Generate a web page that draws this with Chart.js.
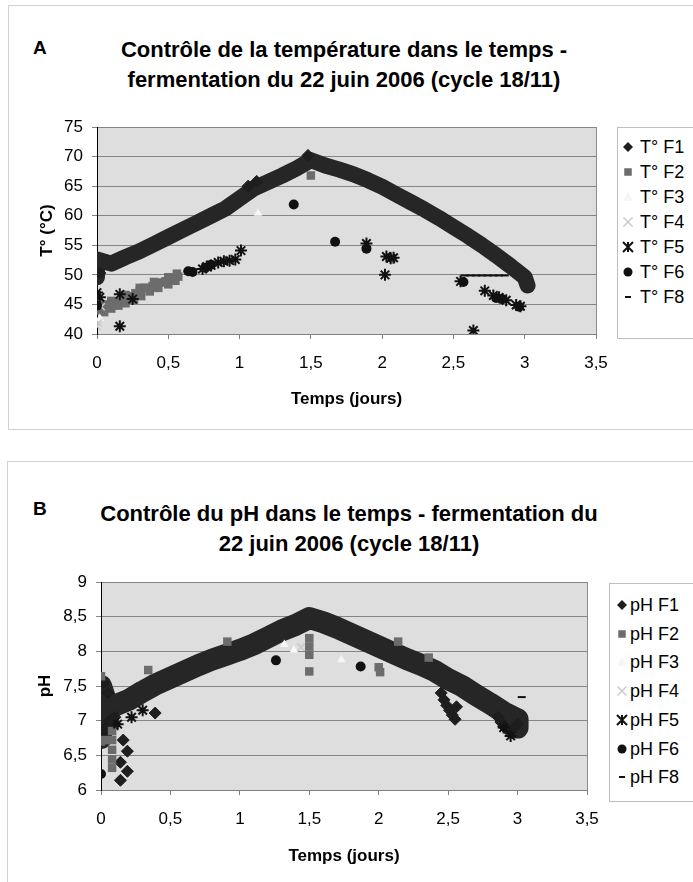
<!DOCTYPE html>
<html lang="fr">
<head>
<meta charset="utf-8">
<title>Contrôle de la température et du pH - fermentation du 22 juin 2006</title>
<script src="https://cdn.jsdelivr.net/npm/chart.js@4.4.1/dist/chart.umd.min.js"></script>
<style>
  html, body { margin: 0; padding: 0; background: #fff; }
  body { position: relative; width: 693px; height: 882px; overflow: hidden;
         font-family: "Liberation Sans", Arial, Helvetica, sans-serif; color: #000; }
  .panel { position: absolute; border: 1px solid #d2d2d2; }
  .letter { position: absolute; font-weight: bold; font-size: 19px; line-height: 20px; }
  .title { position: absolute; left: 0; text-align: center; font-weight: bold;
           font-size: 22px; line-height: 30px; white-space: nowrap; }
  canvas { position: absolute; }
  .legend { position: absolute; background: #fff; border: 1px solid #bdbdbd; }
  .item { position: absolute; font-size: 18px; line-height: 20px; white-space: nowrap; }
</style>
</head>
<body>

<div class="panel" style="left:8px;top:5px;width:700px;height:423px"></div>
<div class="letter" style="left:33px;top:38px">A</div>
<div class="title" style="top:35px;width:688px">Contrôle de la température dans le temps -<br>fermentation du 22 juin 2006 (cycle 18/11)</div>
<canvas id="chartA" width="600" height="310" style="left:8px;top:110px;width:600px;height:310px"></canvas>
<div class="legend" id="legendA" style="left:617px;top:127px;width:90px;height:210px"></div>

<div class="panel" style="left:7px;top:461px;width:700px;height:430px"></div>
<div class="letter" style="left:33px;top:499px">B</div>
<div class="title" style="top:499px;width:698px">Contrôle du pH dans le temps - fermentation du<br>22 juin 2006 (cycle 18/11)</div>
<canvas id="chartB" width="600" height="300" style="left:8px;top:570px;width:600px;height:300px"></canvas>
<div class="legend" id="legendB" style="left:609px;top:583px;width:90px;height:217px"></div>

<script>
// ---------- axes ----------
const xTickLabels = ['0', '0,5', '1', '1,5', '2', '2,5', '3', '3,5'];
const yTickLabelsA = ['40', '45', '50', '55', '60', '65', '70', '75'];
const yTickLabelsB = ['6', '6,5', '7', '7,5', '8', '8,5', '9'];

const seriesA = ['T° F1', 'T° F2', 'T° F3', 'T° F4', 'T° F5', 'T° F6', 'T° F8'];
const seriesB = ['pH F1', 'pH F2', 'pH F3', 'pH F4', 'pH F5', 'pH F6', 'pH F8'];

// ---------- A : température (°C) vs temps (jours) ----------
// dense band of F1 readings, traced along its middle
const tempF1Band = [[0, 49.6], [0, 52.6], [0.1, 51.9], [0.2, 53.0], [0.3, 54.0], [0.4, 55.2],
  [0.5, 56.4], [0.6, 57.6], [0.7, 58.8], [0.8, 60.0], [0.9, 61.2], [1.0, 62.9], [1.1, 64.6],
  [1.2, 65.7], [1.3, 66.8], [1.4, 68.0], [1.5, 69.4], [1.6, 68.5], [1.7, 67.8],
  [1.8, 67.0], [1.9, 66.0], [2.0, 64.9], [2.1, 63.6], [2.2, 62.3], [2.3, 61.0], [2.4, 59.6],
  [2.5, 58.1], [2.6, 56.6], [2.7, 55.0], [2.8, 53.3], [2.9, 51.5], [3.0, 49.6], [3.02, 48.2]];
const tempF1 = [[0.02, 50.3], [1.06, 65.0], [1.12, 65.8], [1.48, 70.2]];
const tempF2 = [[0, 44.0], [0.03, 44.4], [0.06, 44.5], [0.09, 44.9], [0.12, 45.0], [0.15, 45.4],
  [0.18, 45.6], [0.21, 46.0], [0.24, 46.4], [0.27, 46.9], [0.3, 47.3], [0.33, 47.8], [0.36, 47.8],
  [0.39, 48.1], [0.42, 48.3], [0.45, 48.7], [0.48, 48.9], [0.51, 49.1], [0.54, 49.5], [0.57, 49.7],
  [0.05, 43.7], [0.1, 44.3], [0.15, 44.8], [0.2, 45.2], [0.26, 45.8], [0.31, 46.4], [0.37, 47.2],
  [0.43, 47.8], [0.5, 48.4], [0.55, 49.0], [0.04, 45.0], [0.1, 45.6], [0.2, 46.6], [0.3, 47.8],
  [0.4, 48.8], [0.5, 49.6], [0.56, 50.2], [1.5, 66.8]];
const tempF3 = [[1.13, 60.4], [0.02, 42.6]];
const tempF4 = [[0, 41.3], [0.01, 41.9], [0.03, 44.6]];
const tempF5 = [[0, 47.0], [0.02, 46.2], [0.16, 41.3], [0.16, 46.7], [0.25, 45.9], [0.74, 51.0],
  [0.77, 51.4], [0.8, 51.6], [0.85, 52.1], [0.89, 52.3], [0.93, 52.4], [0.97, 52.6], [1.01, 54.1],
  [1.89, 55.3], [2.03, 53.1], [2.06, 52.8], [2.08, 52.9], [2.02, 50.0], [2.55, 48.9], [2.64, 40.6],
  [2.72, 47.3], [2.78, 46.5], [2.82, 46.2], [2.87, 45.7], [2.94, 44.9], [2.97, 44.7]];
const tempF6 = [[0, 44.8], [0.64, 50.6], [0.67, 50.5], [0.76, 51.2], [0.8, 51.7], [1.38, 61.9],
  [1.67, 55.6], [1.89, 54.4], [2.57, 48.8], [2.8, 46.1], [2.84, 45.9], [2.96, 44.6]];
const tempF8 = [[2.58, 49.9], [2.62, 49.9], [2.66, 49.9], [2.7, 49.9], [2.74, 49.9], [2.78, 49.9],
  [2.82, 49.9], [2.86, 49.9]];

// ---------- B : pH vs temps (jours) ----------
const phF1Band = [[0, 6.75], [0, 7.5], [0.05, 7.2], [0.1, 7.22], [0.2, 7.3], [0.3, 7.42], [0.4, 7.53],
  [0.5, 7.62], [0.6, 7.71], [0.7, 7.8], [0.8, 7.88], [0.9, 7.95], [1.0, 8.02], [1.1, 8.1], [1.2, 8.2],
  [1.3, 8.3], [1.4, 8.38], [1.5, 8.48], [1.6, 8.42], [1.7, 8.34], [1.8, 8.25], [1.9, 8.16], [2.0, 8.07],
  [2.1, 7.98], [2.2, 7.89], [2.3, 7.81], [2.4, 7.72], [2.5, 7.6], [2.6, 7.5], [2.7, 7.37], [2.8, 7.25],
  [2.9, 7.12], [3.0, 7.02], [3.0, 6.9]];
const phF1 = [[0.14, 6.14], [0.19, 6.27], [0.14, 6.40], [0.19, 6.56], [0.39, 7.11], [0.16, 6.72],
  [0.04, 6.8], [0.1, 6.95], [0.03, 6.9], [0.06, 7.0], [0.1, 7.05], [0.05, 7.4], [0.02, 7.55],
  [2.45, 7.4], [2.47, 7.3], [2.49, 7.22], [2.51, 7.15], [2.53, 7.08], [2.55, 7.02], [2.56, 7.2],
  [2.86, 7.05], [2.88, 6.98], [2.9, 6.92], [2.92, 6.88], [2.95, 6.85], [2.98, 6.9], [3.0, 6.95]];
const phF2 = [[0, 7.64], [0, 6.7], [0.03, 6.72], [0.34, 7.73], [0.91, 8.14], [1.5, 8.19], [1.5, 8.07],
  [1.5, 7.95], [1.5, 7.71], [2.0, 7.77], [2.01, 7.7], [2.14, 8.14], [2.36, 7.91],
  [0.08, 6.85], [0.08, 6.72], [0.08, 6.58], [0.08, 6.44], [0.08, 6.32]];
const phF3 = [[1.32, 8.1], [1.39, 8.02], [1.73, 7.88]];
const phF4 = [[1.44, 8.06]];
const phF5 = [[0.12, 6.95], [0.22, 7.05], [0.3, 7.15], [2.9, 6.9], [2.95, 6.78]];
const phF6 = [[0, 6.23], [1.26, 7.87], [1.87, 7.78]];
const phF8 = [[3.03, 7.34]];

// ---------- styles ----------
const FONT = '"Liberation Sans", Arial, Helvetica, sans-serif';
Chart.defaults.font.family = FONT;
Chart.defaults.color = '#000';

// marker look per series F1..F8 (chart markers, legend markers)
const markers = [
  { style: 'rectRot', color: '#1e1e1e', radius: 6, border: 1, legendRadius: 5 },
  { style: 'rect', color: '#6c6c6c', radius: 6, border: 0, legendRadius: 5 },
  { style: 'triangle', color: '#f6f6f6', radius: 5, border: 0, legendRadius: 5 },
  { style: 'crossRot', color: '#cacaca', radius: 5, border: 1.5, legendRadius: 4.5 },
  { style: 'star', color: '#111', radius: 6, border: 2, legendRadius: 5 },
  { style: 'circle', color: '#111', radius: 5, border: 0, legendRadius: 4.5 },
  { style: 'line', color: '#111', radius: 4, border: 2, legendRadius: 3 }
];
const bandColor = '#262626';

const plotFrame = {
  id: 'plotFrame',
  beforeDraw(chart) {
    const { ctx, chartArea: a } = chart;
    ctx.save();
    ctx.fillStyle = '#dedede';
    ctx.fillRect(a.left, a.top, a.right - a.left, a.bottom - a.top);
    ctx.restore();
  },
  beforeDatasetsDraw(chart) {
    const { ctx, chartArea: a } = chart;
    ctx.save();
    ctx.strokeStyle = '#8c8c8c';
    ctx.lineWidth = 1;
    ctx.beginPath();
    ctx.moveTo(a.right + 0.5, a.top);
    ctx.lineTo(a.right + 0.5, a.bottom);
    ctx.stroke();
    ctx.restore();
  }
};

function toXY(points) {
  return points.map(([x, y]) => ({ x, y }));
}

function scatterSet(points, i) {
  const m = markers[i];
  return {
    data: toXY(points),
    showLine: false,
    pointStyle: m.style,
    pointRadius: m.radius,
    pointBackgroundColor: m.color,
    pointBorderColor: m.color,
    pointBorderWidth: m.border,
    order: 7 - i
  };
}

function bandSet(points, width) {
  return {
    data: toXY(points),
    showLine: true,
    borderColor: bandColor,
    borderWidth: width,
    borderJoinStyle: 'round',
    borderCapStyle: 'round',
    pointRadius: 0,
    order: 9
  };
}

function makeChart(id, o) {
  return new Chart(document.getElementById(id), {
    type: 'scatter',
    data: { datasets: o.datasets },
    options: {
      responsive: false,
      animation: false,
      events: [],
      layout: { padding: o.padding },
      plugins: { legend: { display: false }, tooltip: { enabled: false } },
      scales: {
        x: {
          type: 'linear', min: 0, max: 3.5,
          ticks: { stepSize: 0.5, autoSkip: false, maxRotation: 0, padding: 14,
                   font: { size: 17 }, callback: (v, i) => xTickLabels[i] },
          grid: { drawOnChartArea: false, tickLength: 5, color: '#808080' },
          border: { color: '#808080' },
          title: { display: true, text: 'Temps (jours)', font: { size: 17, weight: 'bold' },
                   padding: { top: 0, bottom: o.xTitlePad } },
          afterFit: s => { s.height = o.xHeight; s.paddingLeft = 0; s.paddingRight = 0; }
        },
        y: {
          type: 'linear', min: o.yMin, max: o.yMax,
          ticks: { stepSize: o.yStep, autoSkip: false, padding: 9, font: { size: 17 },
                   callback: (v, i) => o.yLabels[i] },
          grid: { color: '#858585', tickLength: 5 },
          border: { color: '#000' },
          title: { display: true, text: o.yTitle, font: { size: 17, weight: 'bold' },
                   padding: { top: o.yTitlePad, bottom: 0 } },
          afterFit: s => { s.width = o.yWidth; s.paddingTop = 0; s.paddingBottom = 0; }
        }
      }
    },
    plugins: [plotFrame]
  });
}

makeChart('chartA', {
  datasets: [
    bandSet(tempF1Band, 16),
    scatterSet(tempF1, 0), scatterSet(tempF2, 1), scatterSet(tempF3, 2), scatterSet(tempF4, 3),
    scatterSet(tempF5, 4), scatterSet(tempF6, 5), scatterSet(tempF8, 6)
  ],
  padding: { top: 17, right: 12, left: 0, bottom: 0 },
  yMin: 40, yMax: 75, yStep: 5, yLabels: yTickLabelsA, yTitle: 'T° (°C)',
  yTitlePad: 29, yWidth: 89, xHeight: 86, xTitlePad: 10
});

makeChart('chartB', {
  datasets: [
    bandSet(phF1Band, 22),
    scatterSet(phF1, 0), scatterSet(phF2, 1), scatterSet(phF3, 2), scatterSet(phF4, 3),
    scatterSet(phF5, 4), scatterSet(phF6, 5), scatterSet(phF8, 6)
  ],
  padding: { top: 12, right: 21, left: 0, bottom: 0 },
  yMin: 6, yMax: 9, yStep: 0.5, yLabels: yTickLabelsB, yTitle: 'pH',
  yTitlePad: 27, yWidth: 93, xHeight: 80, xTitlePad: 3
});

// ---------- legends ----------
function drawMarker(ctx, m, x, y) {
  const r = m.legendRadius;
  ctx.fillStyle = m.color;
  ctx.strokeStyle = m.color;
  ctx.lineWidth = m.border || 1;
  ctx.beginPath();
  if (m.style === 'rectRot') {
    ctx.moveTo(x, y - r); ctx.lineTo(x + r, y); ctx.lineTo(x, y + r); ctx.lineTo(x - r, y);
    ctx.closePath(); ctx.fill();
  } else if (m.style === 'rect') {
    const h = r * 0.75;
    ctx.rect(x - h, y - h, 2 * h, 2 * h); ctx.fill();
  } else if (m.style === 'triangle') {
    ctx.moveTo(x, y - r); ctx.lineTo(x + r, y + r * 0.8); ctx.lineTo(x - r, y + r * 0.8);
    ctx.closePath(); ctx.fill();
  } else if (m.style === 'crossRot') {
    ctx.moveTo(x - r, y - r); ctx.lineTo(x + r, y + r); ctx.moveTo(x + r, y - r); ctx.lineTo(x - r, y + r);
    ctx.stroke();
  } else if (m.style === 'star') {
    ctx.moveTo(x - r, y - r); ctx.lineTo(x + r, y + r); ctx.moveTo(x + r, y - r); ctx.lineTo(x - r, y + r);
    ctx.moveTo(x, y - r); ctx.lineTo(x, y + r);
    ctx.stroke();
  } else if (m.style === 'circle') {
    ctx.arc(x, y, r, 0, Math.PI * 2); ctx.fill();
  } else if (m.style === 'line') {
    ctx.moveTo(x - r, y); ctx.lineTo(x + r, y); ctx.stroke();
  }
}

function buildLegend(id, names, o) {
  const box = document.getElementById(id);
  names.forEach((name, i) => {
    const cy = o.firstY + i * o.stepY;
    const c = document.createElement('canvas');
    c.width = 16; c.height = 16;
    c.style.left = (o.markerX - 8) + 'px';
    c.style.top = (cy - 8) + 'px';
    drawMarker(c.getContext('2d'), markers[i], 8, 8);
    box.appendChild(c);
    const t = document.createElement('div');
    t.className = 'item';
    t.style.left = o.textX + 'px';
    t.style.top = (cy - 10) + 'px';
    t.textContent = name;
    box.appendChild(t);
  });
}

buildLegend('legendA', seriesA, { firstY: 19, stepY: 25, markerX: 10, textX: 22 });
buildLegend('legendB', seriesB, { firstY: 21, stepY: 28.7, markerX: 12, textX: 20 });
</script>
</body>
</html>
